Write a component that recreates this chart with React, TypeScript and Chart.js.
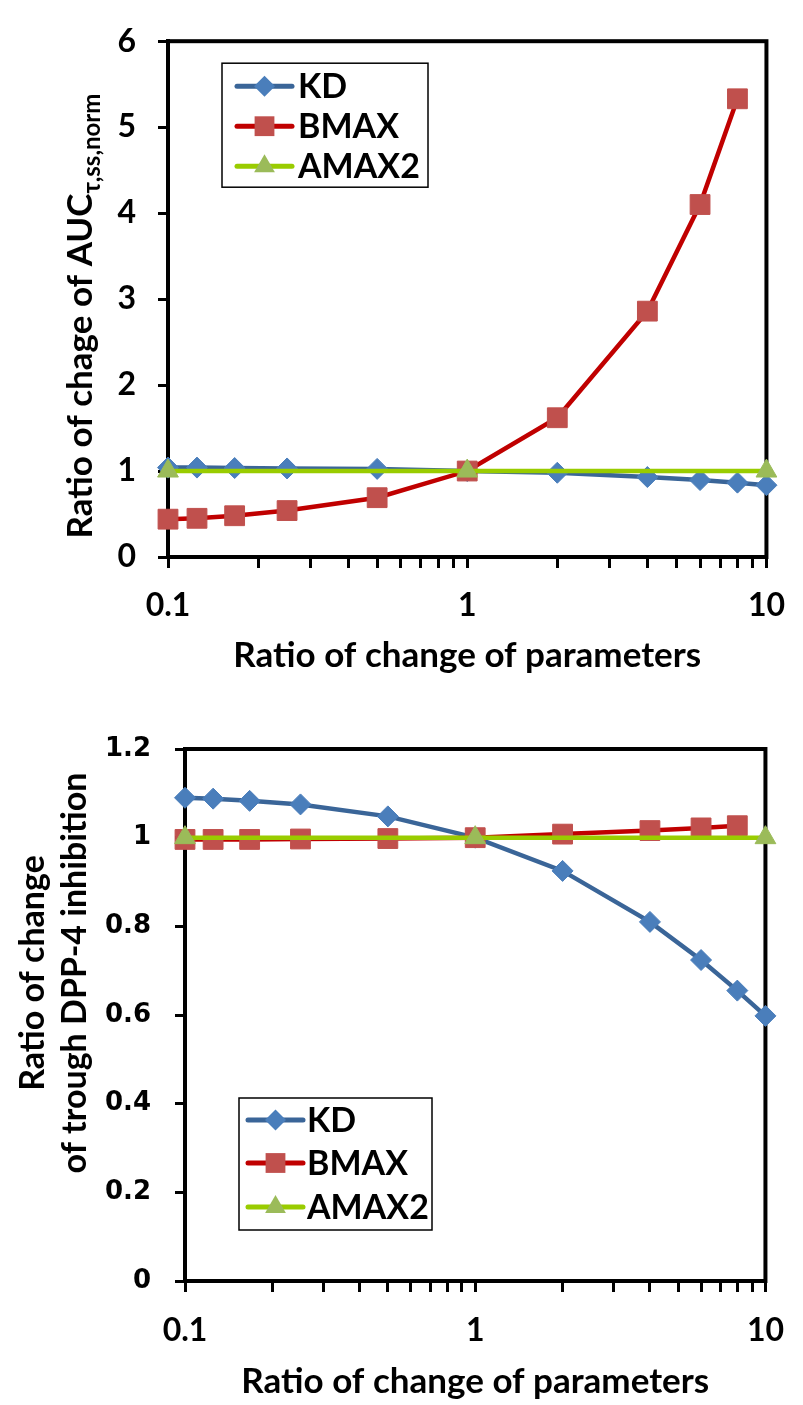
import React, { useEffect, useRef } from "react";
import { Chart, registerables } from "chart.js";

Chart.register(...registerables);

// Parameter multipliers (x positions) for each series
const ratioX = [0.1, 0.125, 0.167, 0.25, 0.5, 1, 2, 4, 6, 8, 10];
const bmaxX = [0.1, 0.125, 0.167, 0.25, 0.5, 1, 2, 4, 6, 8];
const amaxX = [0.1, 1, 10];

// Ratio of change of AUC(tau,ss,norm)
const aucKD = [1.04, 1.04, 1.035, 1.03, 1.025, 1.0, 0.98, 0.93, 0.895, 0.865, 0.835];
const aucBMAX = [0.44, 0.45, 0.48, 0.54, 0.69, 1.0, 1.62, 2.86, 4.1, 5.33];
const aucAMAX2 = [1, 1, 1];

// Ratio of change of trough DPP-4 inhibition
const troughKD = [1.09, 1.088, 1.083, 1.075, 1.048, 1.0, 0.925, 0.81, 0.724, 0.655, 0.598];
const troughBMAX = [0.996, 0.996, 0.996, 0.997, 0.998, 1.0, 1.008, 1.016, 1.022, 1.027];
const troughAMAX2 = [1, 1, 1];

// Axis ticks
const xTickValues = [0.1, 0.2, 0.3, 0.4, 0.5, 0.6, 0.7, 0.8, 0.9, 1, 2, 3, 4, 5, 6, 7, 8, 9, 10];
const xLabelValues = [0.1, 1, 10];
const aucTicks = [0, 1, 2, 3, 4, 5, 6];
const troughTicks = [0, 0.2, 0.4, 0.6, 0.8, 1, 1.2];

const seriesNames = ["KD", "BMAX", "AMAX2"];

const STYLES = [
  { line: "#3A6598", fill: "#4A7EBB", shape: "rectRot", radius: 10.5 },
  { line: "#C00000", fill: "#C0504D", shape: "rect", radius: 14 },
  { line: "#99CC00", fill: "#9BBB59", shape: "triangle", radius: 12 },
];

const CAL = "Lato, 'Open Sans', sans-serif";

function drawMarker(ctx: CanvasRenderingContext2D, shape: string, x: number, y: number, r: number, color: string) {
  ctx.beginPath();
  if (shape === "rectRot") {
    ctx.moveTo(x, y - r);
    ctx.lineTo(x + r, y);
    ctx.lineTo(x, y + r);
    ctx.lineTo(x - r, y);
    ctx.closePath();
  } else if (shape === "rect") {
    const s = r * Math.SQRT1_2;
    ctx.rect(x - s, y - s, 2 * s, 2 * s);
  } else {
    const h = r * Math.sin(Math.PI / 3);
    ctx.moveTo(x, y - r);
    ctx.lineTo(x + h, y + r / 2);
    ctx.lineTo(x - h, y + r / 2);
    ctx.closePath();
  }
  ctx.fillStyle = color;
  ctx.fill();
}

type Panel = {
  width: number;
  height: number;
  padding: { left: number; right: number; top: number; bottom: number };
  yWidth: number;
  xHeight: number;
  yTicks: number[];
  yMax: number;
  yFont: { family: string; size: number; weight: string };
  yPad: number;
  xPad: number;
  series: { xs: number[]; ys: number[] }[];
  legend: { dx: number; dy: number; w: number; h: number; rows: number[]; lineX: number; lineW: number; textX: number; size: number };
  yTitle: { x: number; cy: number; lines: string[]; sub?: string; size: number; gap: number };
};

function buildConfig(p: Panel): any {
  const order = [3, 2, 1];
  const datasets = p.series.map((s, i) => ({
    label: seriesNames[i],
    data: s.xs.map((x, j) => ({ x, y: s.ys[j] })),
    borderColor: STYLES[i].line,
    backgroundColor: STYLES[i].fill,
    borderWidth: 4.5,
    pointStyle: STYLES[i].shape,
    pointRadius: STYLES[i].radius,
    pointHoverRadius: STYLES[i].radius,
    pointBackgroundColor: STYLES[i].fill,
    pointBorderColor: STYLES[i].fill,
    pointBorderWidth: 1,
    tension: 0,
    clip: false,
    order: order[i],
  }));

  const decor = {
    id: "decor",
    beforeDatasetsDraw(chart: any) {
      const { ctx, chartArea: a } = chart;
      ctx.save();
      ctx.strokeStyle = "#000";
      ctx.lineWidth = 4;
      ctx.strokeRect(a.left, a.top, a.right - a.left, a.bottom - a.top);
      ctx.restore();
    },
    afterDraw(chart: any) {
      const { ctx, chartArea: a } = chart;
      const L = p.legend;
      const bx = a.left + L.dx;
      const by = a.top + L.dy;
      ctx.save();
      ctx.fillStyle = "#fff";
      ctx.fillRect(bx, by, L.w, L.h);
      ctx.strokeStyle = "#000";
      ctx.lineWidth = 1.5;
      ctx.strokeRect(bx, by, L.w, L.h);
      seriesNames.forEach((name, i) => {
        const ry = by + L.rows[i];
        const lx = bx + L.lineX;
        ctx.strokeStyle = STYLES[i].line;
        ctx.lineWidth = 5;
        ctx.lineCap = "round";
        ctx.beginPath();
        ctx.moveTo(lx, ry);
        ctx.lineTo(lx + L.lineW, ry);
        ctx.stroke();
        drawMarker(ctx, STYLES[i].shape, lx + L.lineW / 2, ry, STYLES[i].radius, STYLES[i].fill);
        ctx.fillStyle = "#000";
        ctx.font = `bold ${L.size}px ${CAL}`;
        ctx.textBaseline = "middle";
        ctx.textAlign = "left";
        ctx.fillText(name, bx + L.textX, ry + 1);
      });

      // vertical axis title
      const T = p.yTitle;
      T.lines.forEach((line, k) => {
        ctx.save();
        ctx.translate(T.x + k * T.gap, T.cy);
        ctx.rotate(-Math.PI / 2);
        ctx.fillStyle = "#000";
        ctx.textBaseline = "alphabetic";
        ctx.textAlign = "left";
        const mainFont = `bold ${T.size}px ${CAL}`;
        const subFont = `bold ${Math.round(T.size * 0.68)}px ${CAL}`;
        ctx.font = mainFont;
        const w1 = ctx.measureText(line).width;
        let w2 = 0;
        if (T.sub && k === T.lines.length - 1) {
          ctx.font = subFont;
          w2 = ctx.measureText(T.sub).width;
        }
        const start = -(w1 + w2) / 2;
        ctx.font = mainFont;
        ctx.fillText(line, start, 0);
        if (w2) {
          ctx.font = subFont;
          ctx.fillText(T.sub as string, start + w1, T.size * 0.22);
        }
        ctx.restore();
      });
      ctx.restore();
    },
  };

  return {
    type: "line",
    data: { datasets },
    plugins: [decor],
    options: {
      animation: false,
      responsive: false,
      events: [],
      layout: { padding: p.padding },
      plugins: { legend: { display: false }, tooltip: { enabled: false } },
      scales: {
        x: {
          type: "logarithmic",
          min: 0.1,
          max: 10,
          afterBuildTicks: (s: any) => {
            s.ticks = xTickValues.map((v) => ({ value: v }));
          },
          afterFit: (s: any) => {
            s.height = p.xHeight;
          },
          ticks: {
            autoSkip: false,
            maxRotation: 0,
            padding: p.xPad,
            color: "#000",
            font: { family: CAL, size: 32, weight: "bold" },
            callback: (v: number) => (xLabelValues.some((t) => Math.abs(t - v) < 1e-9) ? String(v) : ""),
          },
          grid: { display: true, drawOnChartArea: false, drawTicks: true, tickLength: 11, tickWidth: 3, tickColor: "#000" },
          border: { display: true, color: "#000", width: 4 },
          title: {
            display: true,
            text: "Ratio of change of parameters",
            color: "#000",
            font: { family: CAL, size: 35, weight: "bold" },
            padding: { top: 0, bottom: 0 },
          },
        },
        y: {
          type: "linear",
          min: 0,
          max: p.yMax,
          afterBuildTicks: (s: any) => {
            s.ticks = p.yTicks.map((v) => ({ value: v }));
          },
          afterFit: (s: any) => {
            s.width = p.yWidth;
          },
          ticks: {
            padding: p.yPad,
            color: "#000",
            font: p.yFont,
            callback: (v: number) => String(Math.round(v * 10) / 10),
          },
          grid: { display: true, drawOnChartArea: false, drawTicks: true, tickLength: 10, tickWidth: 3, tickColor: "#000" },
          border: { display: true, color: "#000", width: 4 },
        },
      },
    },
  };
}

const topPanel: Panel = {
  width: 803,
  height: 700,
  padding: { left: 0, right: 28, top: 25, bottom: 23 },
  yWidth: 168,
  xHeight: 120,
  yTicks: aucTicks,
  yMax: 6,
  yFont: { family: CAL, size: 32, weight: "bold" },
  yPad: 22,
  xPad: 18,
  series: [
    { xs: ratioX, ys: aucKD },
    { xs: bmaxX, ys: aucBMAX },
    { xs: amaxX, ys: aucAMAX2 },
  ],
  legend: { dx: 54, dy: 22, w: 206, h: 124, rows: [23, 63, 103], lineX: 15, lineW: 55, textX: 76, size: 34 },
  yTitle: { x: 92, cy: 316, lines: ["Ratio of chage of AUC"], sub: "τ,ss,norm", size: 35, gap: 0 },
};

const bottomPanel: Panel = {
  width: 803,
  height: 705,
  padding: { left: 0, right: 21, top: 49, bottom: 2 },
  yWidth: 185,
  xHeight: 122,
  yTicks: troughTicks,
  yMax: 1.2,
  yFont: { family: "'DejaVu Sans', Verdana, sans-serif", size: 26, weight: "bold" },
  yPad: 24,
  xPad: 19,
  series: [
    { xs: ratioX, ys: troughKD },
    { xs: bmaxX, ys: troughBMAX },
    { xs: amaxX, ys: troughAMAX2 },
  ],
  legend: { dx: 54, dy: 349, w: 193, h: 132, rows: [22, 65, 109], lineX: 9, lineW: 55, textX: 68, size: 34 },
  yTitle: { x: 44, cy: 273, lines: ["Ratio of change", "of trough DPP-4 inhibition"], size: 34, gap: 42 },
};

function PanelChart({ panel }: { panel: Panel }) {
  const ref = useRef<HTMLCanvasElement | null>(null);
  useEffect(() => {
    if (!ref.current) return;
    const chart = new Chart(ref.current, buildConfig(panel));
    return () => chart.destroy();
  }, [panel]);
  return <canvas ref={ref} width={panel.width} height={panel.height} style={{ display: "block", width: panel.width, height: panel.height }} />;
}

export default function App() {
  useEffect(() => {
    document.body.style.margin = "0";
    document.body.style.background = "#fff";
  }, []);
  return (
    <div style={{ width: 803, height: 1405, background: "#fff" }}>
      <PanelChart panel={topPanel} />
      <PanelChart panel={bottomPanel} />
    </div>
  );
}
